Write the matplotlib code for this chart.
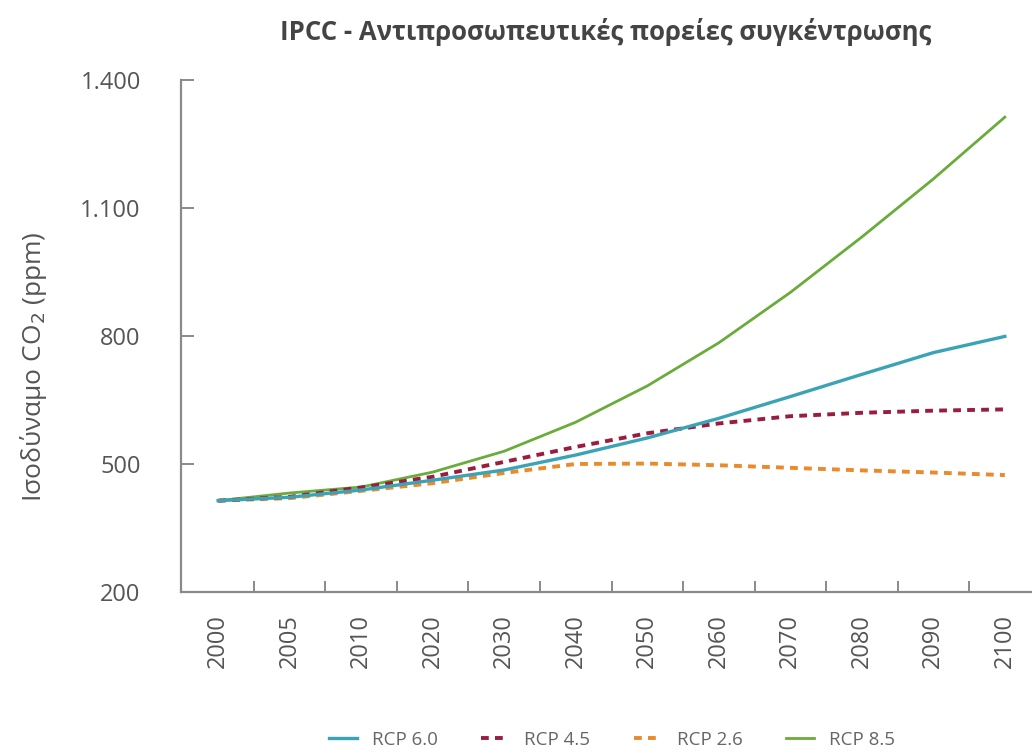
import matplotlib
matplotlib.use("Agg")
import matplotlib.pyplot as plt
import numpy as np

years = ["2000", "2005", "2010", "2020", "2030", "2040", "2050",
         "2060", "2070", "2080", "2090", "2100"]
rcp60 = [414, 422, 439, 462, 486, 521, 561, 607, 658, 710, 761, 799]
rcp45 = [414, 423, 445, 470, 505, 540, 572, 595, 612, 620, 625, 628]
rcp26 = [414, 420, 437, 455, 479, 500, 501, 497, 491, 485, 480, 474]
rcp85 = [414, 432, 446, 481, 530, 598, 683, 784, 902, 1032, 1168, 1313]
yticks = [200, 500, 800, 1100, 1400]
ytick_labels = ["200", "500", "800", "1.100", "1.400"]

title = "IPCC - Αντιπροσωπευτικές πορείες συγκέντρωσης"
ylabel = "Ισοδύναμο CO$_2$ (ppm)"

fam = ["Open Sans", "DejaVu Sans"]
plt.rcParams["font.family"] = fam

fig = plt.figure(figsize=(10.32, 7.52), dpi=100)
ax = fig.add_axes([0.1754, 0.2128, 1 - 0.1754, 0.8936 - 0.2128])

x = np.arange(len(years))
c60, c45, c26, c85 = "#3ba3b6", "#9a1d40", "#e98a2c", "#6aac3a"
ax.plot(x, rcp26, color=c26, lw=2.8, dashes=(2.0, 1.6), label="RCP 2.6", zorder=2)
ax.plot(x, rcp85, color=c85, lw=2.0, label="RCP 8.5", zorder=3)
ax.plot(x, rcp45, color=c45, lw=2.8, dashes=(2.0, 1.6), label="RCP 4.5", zorder=4)
ax.plot(x, rcp60, color=c60, lw=2.4, label="RCP 6.0", zorder=5)

ax.set_ylim(200, 1400)
ax.set_xlim(-0.52, 11.38)
ax.set_yticks(yticks)
ax.set_yticklabels(ytick_labels)
ax.set_xticks(x)
ax.set_xticklabels(years, rotation=90)
ax.set_xticks(x[:-1] + 0.5, minor=True)

for s in ["top", "right"]:
    ax.spines[s].set_visible(False)
for s in ["left", "bottom"]:
    ax.spines[s].set_color("#8a8a8a")
    ax.spines[s].set_linewidth(1.6)

ax.tick_params(axis="y", direction="in", length=9, width=1.4, color="#8a8a8a",
               labelsize=17, labelcolor="#555555", pad=29)
ax.tick_params(axis="x", which="major", length=0, labelsize=17,
               labelcolor="#555555", pad=16)
ax.tick_params(axis="x", which="minor", direction="in", length=8, width=1.4,
               color="#8a8a8a")

ax.set_ylabel(ylabel, fontsize=19, color="#555555")
ax.yaxis.set_label_coords(-0.155, 0.44)

fig.text(0.587, 0.958, title, ha="center", va="center", fontsize=18.5,
         fontweight="bold", color="#444444")

h, l = ax.get_legend_handles_labels()
order = ["RCP 6.0", "RCP 4.5", "RCP 2.6", "RCP 8.5"]
hd = dict(zip(l, h))
leg = fig.legend([hd[k] for k in order], order, loc="center", ncol=4,
                 bbox_to_anchor=(0.593, 0.016), frameon=False, fontsize=13.5,
                 handlelength=1.5, columnspacing=2.3, handletextpad=0.8)
for t in leg.get_texts():
    t.set_color("#666666")

fig.savefig("out.png", dpi=100)
